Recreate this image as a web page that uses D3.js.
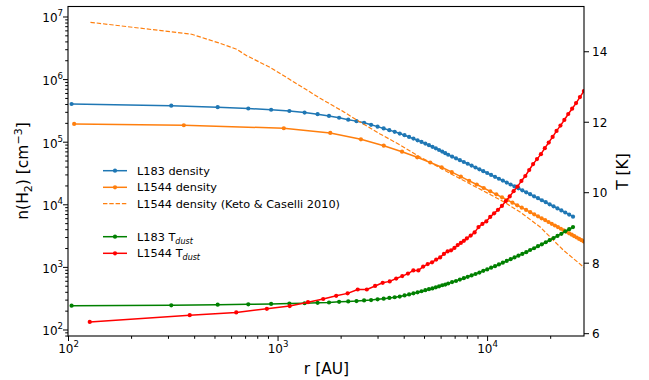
<!DOCTYPE html>
<html><head><meta charset="utf-8">
<script src="https://cdn.jsdelivr.net/npm/d3@7"></script>
<style>
body{margin:0;background:#fff}
text{font-family:"DejaVu Sans",sans-serif;fill:#000}
</style>
</head><body>
<svg id="c" width="649" height="380"></svg>
<script>
// ---------------- data ----------------
const rL183 = [104,311,518,725,932,1139,1346,1553,1760,1967,2174,2381,2588,2795,3002,3209,3416,3623,3830,4037,4244,4451,4658,4865,5072,5279,5486,5693,5900,6107,6314,6521,
  6806,7104,7416,7741,8080,8433,8803,9189,9591,10012,10450,10908,11386,11885,12405,12950,13516,14109,14727,15372,16045,16752,17486,18251,19050,19885,20755,21665,22614,23605,24638,25704];
const nL183 = [400000,376000,356000,339000,324000,309000,292000,275000,258000,241000,225000,213000,200000,186000,174000,163000,153000,144000,135000,127000,119000,112000,105000,99300,93300,87900,82800,78200,73600,69500,65500,61800,
  57900,54200,50700,47400,44400,41500,38700,36200,33800,31600,29400,27500,25600,23900,22200,20700,19300,18000,16700,15500,14500,13400,12500,11600,10800,9990,9270,8600,7970,7390,6840,6340];
const tL183 = [6.78,6.79,6.81,6.82,6.83,6.84,6.85,6.86,6.87,6.89,6.90,6.91,6.93,6.94,6.96,6.98,7.00,7.02,7.04,7.07,7.10,7.13,7.16,7.19,7.22,7.25,7.27,7.30,7.33,7.36,7.38,7.41,
  7.45,7.48,7.52,7.56,7.60,7.64,7.68,7.72,7.77,7.81,7.86,7.90,7.95,8.00,8.05,8.10,8.15,8.20,8.25,8.30,8.36,8.41,8.47,8.52,8.58,8.64,8.70,8.76,8.82,8.89,8.95,9.01];

const rL1544n = [107,357,1071,1785,2499,3213,3927,4641,5355,6069,6783,7497,8211,8925,9639,10353,11067,11781,12495,13209,13923,14637,15351,16065,16779,17493,18207,18921,19635,20349,21063,21777,22491,23205,23919,24633,25347,26061,26775,27489,28203,28917,29631];
const nL1544 = [192000,183000,164000,138000,109000,86300,69200,56300,46500,39000,32600,27600,23700,20700,18200,16100,14400,12900,11700,10600,9640,8830,8140,7480,6920,6430,5970,5600,5210,4880,4580,4320,4070,3850,3640,3440,3270,3090,2950,2800,2670,2550,2440];

const rKeto = [128,389,532,639,713,921,1190,1596,2062,2388,3086,3843,4788,6882,10000,11925,14370,17910,23060,29040];
const nKeto = [8.08e6,5.20e6,3.73e6,2.99e6,2.36e6,1.54e6,9.09e5,4.94e5,3.02e5,2.22e5,1.33e5,88600,57000,29400,15200,11100,7530,4340,1860,978];

const rL1544t = [127,381,635,889,1143,1397,1651,1905,2159,2413,2667,2921,3175,3429,3683,3937,4191,4445,4699,4953,5207,5461,5715,5969,6223,6477,6731,6985,7239,7493,7747,8001,
  8351,8717,9099,9497,9913,10347,10800,11273,11766,12282,12820,13381,13967,14579,15217,15885,16580,17306,18064,18855,19680,20548,21447,22386,23366,24390,25459,26576,27733,28947,30214];
const tL1544 = [6.32,6.51,6.59,6.69,6.77,6.88,6.97,7.06,7.13,7.24,7.24,7.34,7.43,7.47,7.55,7.62,7.69,7.78,7.78,7.89,7.96,8.01,8.09,8.15,8.25,8.32,8.35,8.42,8.50,8.56,8.62,8.69,
  8.77,8.86,9.01,9.10,9.17,9.30,9.40,9.50,9.61,9.75,9.88,10.03,10.16,10.32,10.46,10.63,10.80,10.94,11.08,11.25,11.41,11.57,11.74,11.89,12.05,12.22,12.37,12.53,12.70,12.87,13.04];

const xMajor = [1e2,1e3,1e4];
const yMajor = [1e2,1e3,1e4,1e5,1e6,1e7];
const tTicks = [6,8,10,12,14];
const legendLabels = ["L183 density","L1544 density","L1544 density (Keto & Caselli 2010)","","L183 T","L1544 T"];

// ---------------- layout ----------------
const L=68, R=584, T=6.5, B=336;
const svg = d3.select("#c");
const x = d3.scaleLog().domain([100,29000]).range([L,R]);
const yL = d3.scaleLog().domain([78.7,1.444e7]).range([B,T]);
const yR = d3.scaleLinear().domain([5.92,15.27]).range([B,T]);

svg.append("defs").append("clipPath").attr("id","pc")
  .append("rect").attr("x",L).attr("y",T).attr("width",R-L).attr("height",B-T);

const C = {blue:"#1f77b4", orange:"#ff7f0e", green:"#008000", red:"#ff0000"};

function minors(lo, hi){
  const out=[];
  for(let e=Math.floor(Math.log10(lo)); e<=Math.ceil(Math.log10(hi)); e++){
    for(let m=2;m<=9;m++){const v=m*Math.pow(10,e); if(v>=lo&&v<=hi) out.push(v);}
  }
  return out;
}

// ---------------- series ----------------
const plot = svg.append("g").attr("clip-path","url(#pc)");
function series(rs, vs, ys, color, markers, dash){
  const data = rs.map((r,i)=>[r,vs[i]]);
  const line = d3.line().x(d=>x(d[0])).y(d=>ys(d[1]));
  const p = plot.append("path").datum(data).attr("d",line)
    .attr("fill","none").attr("stroke",color)
    .attr("stroke-width", dash?1.2:1.5).attr("stroke-linejoin","round");
  if(dash) p.attr("stroke-dasharray",dash);
  if(markers){
    plot.append("g").selectAll("circle").data(data).join("circle")
      .attr("cx",d=>x(d[0])).attr("cy",d=>ys(d[1])).attr("r",2.1).attr("fill",color);
  }
}
series(rL183, nL183, yL, C.blue, true);
series(rL1544n, nL1544, yL, C.orange, true);
series(rKeto, nKeto, yL, C.orange, false, "4.4,1.9");
series(rL183, tL183, yR, C.green, true);
series(rL1544t, tL1544, yR, C.red, true);

// ---------------- axes ----------------
function styleAxis(g){
  g.select(".domain").remove();
  g.selectAll("line").attr("stroke","#000").attr("stroke-width",1);
  g.selectAll("text").attr("font-family","DejaVu Sans").attr("font-size","12px").attr("fill","#000");
}
function supLabel(sel, base, exp){
  sel.each(function(d){
    const t=d3.select(this); t.text(null);
    t.append("tspan").text(base);
    t.append("tspan").attr("dy",-6).attr("font-size","8.6px").text(exp(d));
  });
}
// bottom
const gxMin = svg.append("g").attr("transform",`translate(0,${B})`)
  .call(d3.axisBottom(x).tickValues(minors(100,29000)).tickSize(2.8).tickFormat(""));
styleAxis(gxMin);
const gx = svg.append("g").attr("transform",`translate(0,${B})`)
  .call(d3.axisBottom(x).tickValues(xMajor).tickSize(5).tickPadding(5).tickFormat(d=>""));
styleAxis(gx);
gx.selectAll(".tick text").attr("y",null).attr("dy",null).attr("transform","translate(0,17)").attr("text-anchor","middle");
supLabel(gx.selectAll(".tick text"),"10",d=>Math.round(Math.log10(d)));
// left
const gyMin = svg.append("g").attr("transform",`translate(${L},0)`)
  .call(d3.axisLeft(yL).tickValues(minors(78.7,1.444e7)).tickSize(2.8).tickFormat(""));
styleAxis(gyMin);
const gy = svg.append("g").attr("transform",`translate(${L},0)`)
  .call(d3.axisLeft(yL).tickValues(yMajor).tickSize(5).tickFormat(d=>""));
styleAxis(gy);
gy.selectAll(".tick text").attr("x",-5).attr("dy",null).attr("y",5.5).attr("text-anchor","end");
supLabel(gy.selectAll(".tick text"),"10",d=>Math.round(Math.log10(d)));
// right
const gr = svg.append("g").attr("transform",`translate(${R},0)`)
  .call(d3.axisRight(yR).tickValues(tTicks).tickSize(5).tickPadding(3).tickFormat(d3.format("d")));
styleAxis(gr);
gr.selectAll(".tick text").attr("dy",null).attr("y",4.4);

// spines
svg.append("rect").attr("x",L).attr("y",T).attr("width",R-L).attr("height",B-T)
  .attr("fill","none").attr("stroke","#000").attr("stroke-width",1.1);

// axis labels
svg.append("text").attr("x",326.5).attr("y",374).attr("text-anchor","middle")
  .attr("font-size","15.5px").text("r [AU]");
const yl = svg.append("text").attr("transform","translate(28,171) rotate(-90)")
  .attr("text-anchor","middle").attr("font-size","15.5px");
yl.append("tspan").text("n(H");
yl.append("tspan").attr("dy",3.5).attr("font-size","11px").text("2");
yl.append("tspan").attr("dy",-3.5).text(") [cm");
yl.append("tspan").attr("dy",-6).attr("font-size","11px").text("\u22123");
yl.append("tspan").attr("dy",6).text("]");
svg.append("text").attr("transform","translate(628,171.5) rotate(-90)")
  .attr("text-anchor","middle").attr("font-size","15.5px").text("T [K]");

// ---------------- legend ----------------
const leg = svg.append("g");
const legStyle = [
  {c:C.blue,m:true},{c:C.orange,m:true},{c:C.orange,m:false,d:"4.4,1.9"},null,
  {c:C.green,m:true,sub:"dust"},{c:C.red,m:true,sub:"dust"}];
const rowY = [170.7,187.3,203.6,220,236.7,253.3];
legendLabels.forEach((lab,i)=>{
  const s = legStyle[i]; if(!s) return;
  const y = rowY[i];
  const ln = leg.append("line").attr("x1",103).attr("x2",127).attr("y1",y).attr("y2",y)
    .attr("stroke",s.c).attr("stroke-width",s.d?1.2:1.5);
  if(s.d) ln.attr("stroke-dasharray",s.d);
  if(s.m) leg.append("circle").attr("cx",115).attr("cy",y).attr("r",2.1).attr("fill",s.c);
  const t = leg.append("text").attr("x",137).attr("y",y+4).attr("font-size","11.3px");
  t.append("tspan").text(lab);
  if(s.sub) t.append("tspan").attr("dy",2.8).attr("font-size","8px").attr("font-style","italic").text(s.sub);
});
</script>
</body></html>
